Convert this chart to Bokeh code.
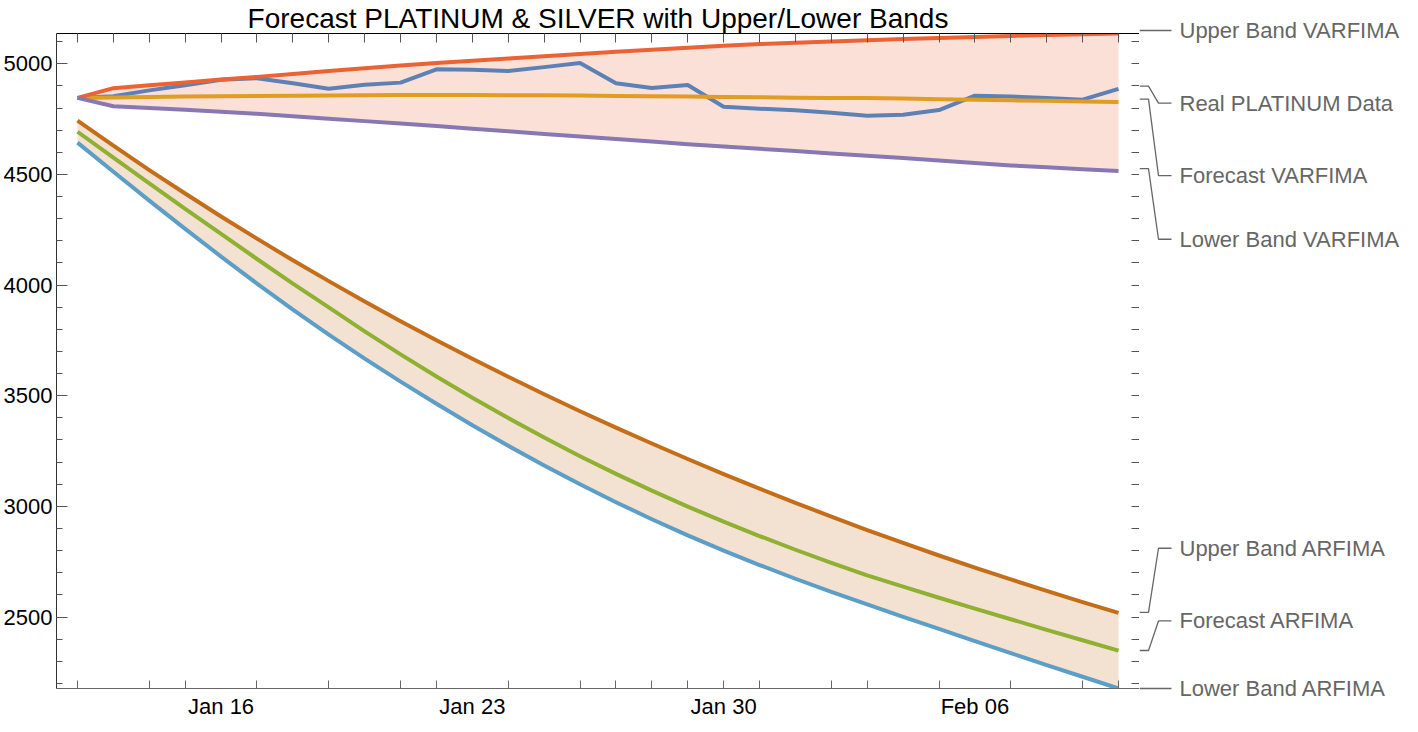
import pandas as pd
from bokeh.plotting import figure
from bokeh.models import (Range1d, FixedTicker, DatetimeTickFormatter, DatetimeAxis,
                          LinearAxis)
from bokeh.core.properties import value
from bokeh.layouts import row
from bokeh.embed import file_html
from bokeh.resources import INLINE

# ---------------- data ----------------
start_date = "2015-01-12"
n_days = 30
dates = pd.date_range(start_date, periods=n_days, freq="D")

real_platinum = [4846, 4853, 4880, 4903, 4928, 4935, 4912, 4887, 4905, 4915,
                 4975, 4973, 4968, 4985, 5004, 4912, 4891, 4904, 4806, 4797,
                 4790, 4779, 4765, 4770, 4791, 4856, 4852, 4845, 4838, 4887]
forecast_varfima = [4846, 4848, 4850, 4852, 4853, 4855, 4856, 4857, 4858, 4859,
                    4859, 4859, 4858, 4858, 4857, 4855, 4853, 4852, 4850, 4849,
                    4847, 4846, 4845, 4843, 4840, 4838, 4835, 4833, 4830, 4828]
upper_varfima = [4846, 4890, 4903, 4916, 4929, 4941, 4954, 4967, 4980, 4992,
                 5004, 5014, 5024, 5034, 5044, 5054, 5064, 5073, 5082, 5089,
                 5095, 5101, 5107, 5112, 5117, 5121, 5126, 5130, 5134, 5137]
lower_varfima = [4846, 4808, 4800, 4792, 4783, 4774, 4763, 4752, 4741, 4730,
                 4719, 4707, 4695, 4683, 4671, 4660, 4649, 4637, 4626, 4616,
                 4606, 4595, 4585, 4574, 4563, 4552, 4541, 4533, 4524, 4516]
forecast_arfima = [4693, 4576, 4460, 4345, 4231, 4118, 4007, 3899, 3791, 3687,
                   3587, 3491, 3399, 3311, 3227, 3147, 3071, 2999, 2931, 2866,
                   2804, 2745, 2688, 2637, 2587, 2538, 2490, 2442, 2395, 2348]
upper_arfima = [4743, 4630, 4520, 4414, 4310, 4210, 4112, 4018, 3926, 3837,
                3751, 3667, 3586, 3507, 3430, 3356, 3284, 3214, 3146, 3080,
                3016, 2954, 2893, 2835, 2778, 2723, 2670, 2618, 2567, 2519]
lower_arfima = [4644, 4512, 4382, 4254, 4129, 4007, 3889, 3776, 3668, 3564,
                3464, 3367, 3274, 3185, 3100, 3019, 2942, 2869, 2800, 2735,
                2673, 2614, 2557, 2501, 2446, 2391, 2337, 2283, 2230, 2177]

y_ticks = [2500, 3000, 3500, 4000, 4500, 5000]
y_minor_ticks = list(range(2200, 5200, 100))
x_label_dates = ["2015-01-16", "2015-01-23", "2015-01-30", "2015-02-06"]
x_bottom_tick_dates = ["2015-01-12", "2015-01-14", "2015-01-15", "2015-01-17",
                       "2015-01-19", "2015-01-21", "2015-01-22", "2015-01-24",
                       "2015-01-26", "2015-01-27", "2015-01-28", "2015-01-29",
                       "2015-01-30", "2015-01-31", "2015-02-02", "2015-02-03",
                       "2015-02-05", "2015-02-07", "2015-02-09", "2015-02-10"]

title_text = "Forecast PLATINUM & SILVER with Upper/Lower Bands"
names = ["Real PLATINUM Data", "Forecast VARFIMA", "Forecast ARFIMA",
         "Upper Band VARFIMA", "Lower Band VARFIMA",
         "Upper Band ARFIMA", "Lower Band ARFIMA"]
series = [real_platinum, forecast_varfima, forecast_arfima,
          upper_varfima, lower_varfima, upper_arfima, lower_arfima]
colors = ["#5E81B5", "#E19C24", "#8FB032", "#EB6235", "#8778B3", "#C56E1A", "#5D9EC7"]

# callout label vertical positions (value units) for the right-hand labels
label_y = {"Upper Band VARFIMA": 5137, "Real PLATINUM Data": 4810,
           "Forecast VARFIMA": 4484, "Lower Band VARFIMA": 4198,
           "Upper Band ARFIMA": 2808, "Forecast ARFIMA": 2481,
           "Lower Band ARFIMA": 2177}

# ---------------- layout ----------------
FONT = "Liberation Sans"
Y0, Y1 = 2177, 5137
H = 724
TOP, BOT = 30, 36
FRAME_W = 1083
FRAME_H = H - TOP - BOT
AXC = "#333333"


def ms(d):
    return pd.Timestamp(d).value // 10**6


day_ms = 86400000
pad = 0.585 * day_ms
x_range = Range1d(start=ms(dates[0]) - pad, end=ms(dates[-1]) + pad)
y_range = Range1d(start=Y0, end=Y1)

p = figure(x_axis_type="datetime", x_range=x_range, y_range=y_range,
           frame_width=FRAME_W, height=H,
           output_backend="svg", toolbar_location=None,
           min_border_left=52, min_border_right=0, min_border_top=TOP,
           min_border_bottom=BOT, title=title_text, frame_align=False)
p.title.text_font = FONT
p.title.text_font_size = "28px"
p.title.text_font_style = "normal"
p.title.text_color = "black"
p.title.align = "center"
p.title.standoff = 0
p.outline_line_color = None
p.grid.visible = False

# bottom axis
xa = p.xaxis[0]
xa.ticker = FixedTicker(ticks=[ms(d) for d in x_label_dates],
                        minor_ticks=[ms(d) for d in x_bottom_tick_dates])
xa.formatter = DatetimeTickFormatter(days="%b %d", months="%b %d", hours="%b %d")
xa.major_tick_in = 0
xa.major_tick_out = 0
xa.minor_tick_in = 8
xa.minor_tick_out = 0
xa.major_label_text_font = FONT
xa.major_label_text_font_size = "22px"
xa.major_label_text_color = "black"
xa.major_label_standoff = 5
xa.axis_line_color = "#666666"
xa.minor_tick_line_color = "#666666"

# left axis
ya = p.yaxis[0]
ya.ticker = FixedTicker(ticks=y_ticks, minor_ticks=y_minor_ticks)
ya.major_tick_in = 11
ya.major_tick_out = 0
ya.minor_tick_in = 6
ya.minor_tick_out = 0
ya.major_label_text_font = FONT
ya.major_label_text_font_size = "22px"
ya.major_label_text_color = "black"
ya.major_label_standoff = 4
ya.axis_line_color = AXC
ya.major_tick_line_color = "#555555"
ya.minor_tick_line_color = "#555555"

# top axis (ticks only, drawn as minor ticks so no labels exist)
top_ax = DatetimeAxis(ticker=FixedTicker(ticks=[], minor_ticks=[ms(d) for d in dates]),
                      major_tick_in=0, major_tick_out=0,
                      minor_tick_in=9, minor_tick_out=0,
                      major_label_standoff=0,
                      axis_line_color="black", minor_tick_line_color="#555555")
p.add_layout(top_ax, "above")

# right axis (ticks only)
right_ax = LinearAxis(ticker=FixedTicker(ticks=[], minor_ticks=y_minor_ticks),
                      major_tick_in=0, major_tick_out=0,
                      minor_tick_in=8, minor_tick_out=0,
                      major_label_standoff=0,
                      axis_line_color="black", minor_tick_line_color="#555555")
p.add_layout(right_ax, "right")

# bands
p.varea(x=dates, y1=lower_varfima, y2=upper_varfima,
        fill_color="#EB6235", fill_alpha=0.2)
p.varea(x=dates, y1=lower_arfima, y2=upper_arfima,
        fill_color="#C56E1A", fill_alpha=0.2)

for vals, c in zip(series, colors):
    p.line(x=dates, y=vals, line_color=c, line_width=4, line_join="round")

# ---------------- callout labels panel ----------------
LAB_W = 262
M = 16  # extra room above/below so text at the edges is not cut
scale = FRAME_H / (Y1 - Y0)
q = figure(frame_width=LAB_W, height=H,
           x_range=Range1d(0, LAB_W),
           y_range=Range1d(Y0 - M / scale, Y1 + M / scale),
           x_axis_location=None, y_axis_location=None, title_location=None,
           output_backend="svg", toolbar_location=None,
           min_border_left=0, min_border_right=0,
           min_border_top=TOP - M, min_border_bottom=BOT - M,
           frame_align=False)
q.outline_line_color = None
q.grid.visible = False

ends = {n: s[-1] for n, s in zip(names, series)}
xs, ys, tx, ty, tt = [], [], [], [], []
for n in names:
    e, ly = ends[n], label_y[n]
    xs.append([0, 9, 19, 32])
    ys.append([e, e, ly, ly])
    tx.append(40)
    ty.append(ly)
    tt.append(n)
q.multi_line(xs=xs, ys=ys, line_color="#666666", line_width=1.3)
q.text(x=tx, y=ty, text=tt, text_font=value(FONT), text_font_size="22px",
       text_color="#666666", text_baseline="middle", text_align="left")

layout = row(p, q)
open("out.html", "w").write(file_html(layout, INLINE))
